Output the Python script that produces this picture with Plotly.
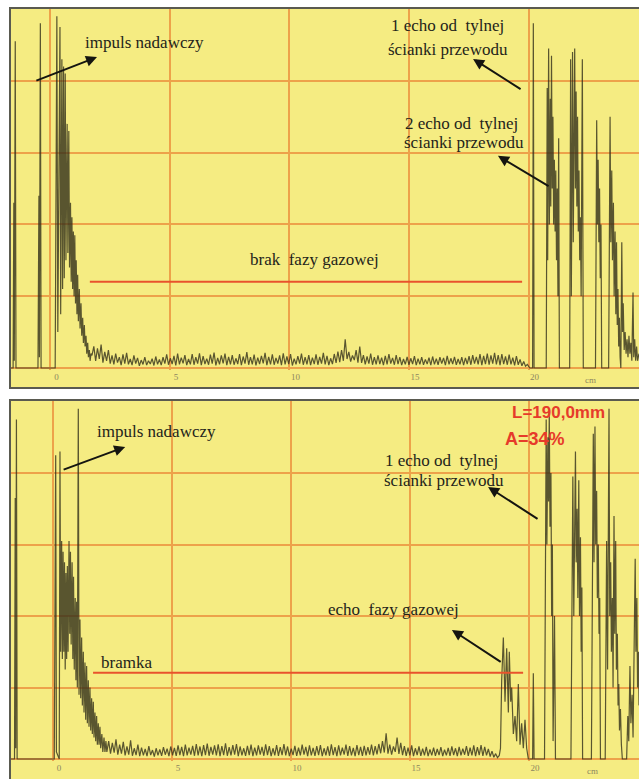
import plotly.graph_objects as go

# ---------------- data (x in cm, amplitude in %) ----------------
tick_vals = [0, 5, 10, 15, 20]
tick_labels = ["0", "5", "10", "15", "20"]
unit_label = "cm"

# ---- top panel: brak fazy gazowej ----
top_pulse_x = [-1.69, -1.56, -1.53, -1.51, -1.47, -1.44, -0.52, -0.48, -0.46, -0.42, -0.39,
               0.20, 0.27, 0.31, 0.40, 0.43, 0.48, 0.51, 0.55, 0.58, 0.62, 0.65, 0.70, 0.73,
               0.77, 0.80, 0.84, 0.87, 0.90, 0.93, 0.96, 0.99, 1.02, 1.05, 1.08, 1.11, 1.14,
               1.17, 1.21, 1.24, 1.28, 1.31, 1.35, 1.38, 1.42, 1.45, 1.49, 1.52, 1.56, 1.59,
               1.63, 1.66, 1.70]
top_pulse_y = [0, 0, 46, 2, 91, 0, 0, 48, 3, 96, 0,
               0, 98, 10, 95, 15, 86, 22, 84, 25, 82, 30, 68, 32,
               66, 28, 46, 24, 42, 22, 38, 20, 37, 18, 30, 15, 26,
               13, 22, 11, 18, 9, 14, 7, 12, 6, 9, 4, 7, 3,
               5, 2, 4]
top_noise_start = 1.74
top_noise_end = 19.95
top_noise = [3.5, 6.0, 2.0, 5.5, 2.5, 6.5, 1.5, 4.5, 2.0, 5.0, 1.2, 3.5, 1.0, 4.0, 1.5, 3.0, 0.8, 3.8, 1.2, 4.2,
             1.0, 2.5, 0.8, 3.5, 1.2, 2.8, 0.6, 2.2, 1.0, 3.0, 0.8, 2.0, 1.1, 2.6, 0.7, 3.2, 1.0, 2.4, 0.8, 3.0,
             1.2, 3.8, 0.9, 2.7, 1.1, 3.4, 0.7, 4.0, 1.0, 2.9, 1.3, 3.6, 0.8, 2.5, 1.0, 3.9, 0.9, 3.0, 1.2, 4.1,
             0.8, 3.3, 1.1, 2.6, 0.9, 3.7, 1.2, 4.3, 0.7, 2.8, 1.0, 3.5, 1.3, 4.0, 0.8, 3.1, 1.0, 3.6, 0.9, 2.7,
             1.1, 3.9, 0.8, 3.2, 1.2, 4.4, 0.9, 3.0, 1.0, 3.7, 0.7, 2.9, 1.1, 3.4, 1.3, 4.2, 0.8, 3.1, 1.0, 3.8,
             0.9, 2.8, 1.2, 3.5, 0.8, 4.1, 1.0, 3.2, 1.1, 3.9, 0.7, 2.6, 1.0, 3.3, 1.2, 4.0, 0.9, 3.0, 1.0, 3.6,
             0.8, 2.9, 1.1, 3.8, 0.9, 3.1, 1.2, 4.2, 1.0, 3.4, 0.8, 2.7, 1.1, 3.9, 1.4, 4.6, 1.6, 5.0, 2.0, 8.0,
             2.5, 4.5, 1.8, 3.5, 2.2, 5.0, 1.5, 6.0, 1.4, 3.6, 1.0, 3.2, 1.2, 4.0, 0.9, 3.0, 1.0, 3.5, 1.1, 2.9,
             0.8, 3.4, 1.0, 3.9, 1.2, 2.8, 0.9, 3.6, 1.1, 3.0, 0.8, 2.5, 1.0, 3.1, 0.9, 2.7, 1.1, 3.3, 0.8, 2.6,
             1.0, 3.0, 0.9, 2.4, 1.1, 2.9, 0.8, 3.2, 1.0, 2.6, 0.9, 3.0, 1.2, 2.8, 0.8, 3.4, 1.0, 2.7, 1.1, 3.1,
             0.9, 2.5, 1.0, 3.0, 0.8, 2.8, 1.1, 3.3, 0.9, 3.6, 1.2, 3.1, 1.0, 3.9, 0.8, 3.4, 1.1, 4.0, 0.9, 3.5,
             1.2, 4.2, 1.0, 3.6, 0.8, 3.9, 1.1, 3.2, 0.9, 3.7, 1.0, 2.9, 0.7, 3.3, 0.9, 2.4, 0.6, 1.8, 0.5, 1.0]
top_echo_x = [20.05, 20.17, 20.20, 20.23,
              20.74, 20.78, 20.80, 20.84, 20.87, 20.91, 20.93, 20.96, 20.99, 21.02, 21.05, 21.08,
              21.11, 21.14, 21.17, 21.20, 21.23, 21.26, 21.29,
              21.72, 21.76, 21.79, 21.84, 21.87, 21.93, 21.96, 21.99, 22.02, 22.05, 22.08, 22.11,
              22.14, 22.17, 22.20, 22.25, 22.29,
              22.80, 22.85, 22.88, 22.91, 22.94, 22.97, 23.00, 23.03, 23.06,
              23.35, 23.41, 23.44, 23.48, 23.51, 23.55, 23.58, 23.62, 23.65, 23.68, 23.71, 23.74,
              23.77, 23.80, 23.83, 23.86, 23.90, 23.93, 23.96, 24.00, 24.04, 24.08, 24.12, 24.16,
              24.20, 24.24, 24.28, 24.32, 24.37, 24.40, 24.44, 24.48, 24.52, 24.56, 24.62]
top_echo_y = [0, 0, 96, 0,
              0, 78, 30, 89, 40, 75, 45, 87, 50, 70, 40, 58,
              38, 55, 30, 50, 20, 64, 0,
              0, 86, 20, 88, 35, 89, 50, 77, 45, 70, 38, 55,
              30, 42, 20, 86, 0,
              0, 69, 40, 58, 35, 50, 25, 40, 0,
              0, 70, 35, 55, 30, 46, 20, 38, 15, 35, 12, 22,
              6, 14, 3, 0, 35, 10, 18, 5, 10, 4, 8, 3,
              9, 4, 7, 2, 21, 3, 8, 2, 6, 2, 4]
top_gate_x = [1.65, 19.73]
top_gate_level = 24.0

# ---- bottom panel: echo fazy gazowej ----
bot_pulse_x = [-1.81, -1.62, -1.59, -1.57, -1.54, -1.51,
               0.05, 0.11, 0.14, 0.26, 0.29, 0.32, 0.36, 0.39, 0.42, 0.45, 0.48, 0.51, 0.54,
               0.57, 0.60, 0.63, 0.67, 0.70, 0.73, 0.76, 0.80, 0.83, 0.86, 0.89, 0.93, 0.96,
               0.99, 1.02, 1.06, 1.09, 1.13, 1.16, 1.20, 1.23, 1.27, 1.30, 1.34, 1.37, 1.41,
               1.44, 1.48, 1.51, 1.55, 1.58, 1.62, 1.65, 1.69, 1.72, 1.76, 1.79, 1.83, 1.86,
               1.90, 1.93, 1.97, 2.00, 2.05, 2.09, 2.14, 2.18, 2.22]
bot_pulse_y = [0, 0, 73, 3, 95, 0,
               0, 85, 2, 0, 86, 30, 61, 28, 58, 30, 55, 25, 52,
               28, 54, 30, 61, 35, 58, 32, 55, 28, 51, 25, 45, 22,
               44, 20, 98, 18, 39, 17, 34, 15, 30, 13, 27, 11, 26,
               10, 22, 9, 20, 8, 17, 7, 16, 6, 13, 5, 12, 4,
               10, 4, 9, 3, 7, 2, 6, 2, 5]
bot_noise_start = 2.26
bot_noise_end = 18.75
bot_noise = [2.0, 5.0, 1.5, 4.5, 1.8, 5.5, 1.2, 4.0, 1.5, 4.8, 1.0, 3.5, 1.2, 5.2, 0.9, 3.0, 1.1, 4.0, 0.8, 3.2,
             1.0, 2.8, 0.8, 3.6, 1.1, 2.5, 0.7, 3.0, 1.0, 2.7, 0.9, 3.3, 1.2, 2.9, 0.8, 3.5, 1.0, 3.1, 0.9, 3.8,
             1.1, 3.4, 0.8, 4.0, 1.0, 3.2, 1.2, 3.7, 0.9, 4.2, 1.0, 3.5, 0.8, 3.9, 1.1, 4.3, 0.9, 3.4, 1.2, 3.8,
             1.0, 4.1, 0.8, 3.6, 1.1, 4.4, 0.9, 3.3, 1.0, 3.9, 1.2, 4.2, 0.8, 3.5, 1.0, 3.0, 0.9, 3.7, 1.1, 4.0,
             0.8, 3.2, 1.0, 3.8, 1.2, 3.4, 0.9, 4.1, 1.1, 3.6, 0.8, 3.0, 1.0, 3.9, 0.9, 3.3, 1.1, 4.2, 1.0, 3.5,
             0.8, 2.9, 1.1, 3.7, 0.9, 3.2, 1.0, 4.0, 1.2, 3.4, 0.8, 3.8, 1.0, 3.1, 0.9, 3.6, 1.1, 3.9, 0.8, 3.0,
             1.0, 3.5, 0.9, 4.1, 1.1, 3.3, 0.8, 3.8, 1.0, 3.2, 1.2, 4.0, 0.9, 3.6, 1.0, 3.1, 0.8, 3.9, 1.1, 3.4,
             0.9, 3.7, 1.0, 3.3, 1.2, 4.0, 1.0, 3.6, 1.3, 4.2, 1.6, 5.0, 1.8, 7.2, 1.5, 4.0, 1.2, 3.5, 2.0, 6.0,
             1.4, 4.5, 1.1, 3.6, 0.9, 3.2, 1.0, 3.8, 0.8, 3.0, 1.1, 3.5, 0.9, 2.9, 1.0, 3.4, 0.8, 2.7, 1.0, 3.2,
             0.9, 2.8, 1.1, 3.3, 0.8, 2.6, 1.0, 3.1, 0.9, 3.5, 1.1, 3.0, 0.8, 3.4, 1.0, 2.9, 1.2, 3.6, 0.9, 3.2,
             1.0, 3.8, 0.8, 3.3, 1.1, 3.9, 0.9, 3.4, 1.0, 2.8, 0.7, 2.2, 0.5, 1.5, 0.4, 1.0]
bot_echo_x = [18.80, 18.85, 18.92, 18.99, 19.06, 19.13, 19.17, 19.23, 19.27, 19.34, 19.41, 19.48,
              19.55, 19.62, 19.69, 19.76, 19.83, 19.90, 19.97,
              20.15, 20.18, 20.21,
              20.65, 20.72, 20.75, 20.79, 20.82, 20.85, 20.88, 20.92, 20.95, 20.98, 21.01, 21.07, 21.11,
              21.76, 21.84, 21.88, 21.95, 21.98, 22.02, 22.05, 22.09, 22.12, 22.16, 22.19, 22.22, 22.25,
              22.62, 22.70, 22.73, 22.77, 22.80, 22.84, 22.87, 22.91, 22.94, 22.97, 23.00,
              23.20, 23.26, 23.30, 23.36, 23.39, 23.43, 23.46, 23.50, 23.53, 23.57, 23.60, 23.64,
              23.67, 23.71, 23.74, 23.77, 23.80, 23.84, 23.88, 23.92,
              24.10, 24.15, 24.19, 24.24, 24.28, 24.33, 24.37, 24.43, 24.46, 24.49, 24.53, 24.56,
              24.60, 24.62]
bot_echo_y = [3, 22, 34, 16, 31, 13, 30, 16, 20, 7, 12, 5,
              21, 4, 10, 3, 11, 3, 0,
              0, 24, 0,
              0, 95, 60, 90, 72, 97, 65, 80, 40, 60, 5, 40, 0,
              0, 79, 40, 86, 55, 70, 45, 78, 40, 62, 30, 48, 0,
              0, 91, 55, 93, 60, 75, 45, 60, 35, 45, 0,
              0, 61, 25, 98, 40, 55, 30, 45, 20, 68, 35, 61,
              25, 35, 15, 21, 8, 14, 4, 0,
              0, 12, 5, 26, 10, 18, 6, 40, 56, 30, 45, 20,
              30, 15]
bot_gate_x = [1.68, 19.75]
bot_gate_level = 24.1

# ---------------- styling ----------------
W, H = 639, 779
BG = "#f5ec82"
GRID = "#eda24a"
TRACE = "rgba(50,48,26,0.8)"
GATE = "#e8532c"
FRAME = "#5a5a50"
TXT = "#24241a"
TICKC = "#8c8660"
SERIF = "Liberation Serif, Times New Roman, serif"
SANS = "Liberation Sans, Arial, sans-serif"


def py2paper(py):
    return 1 - py / H


def signal(px, py, n0, n1, nv, ex, ey):
    n = len(nv)
    step = (n1 - n0) / (n - 1)
    nx = [n0 + i * step for i in range(n)]
    return px + nx + ex, py + nv + ey


fig = go.Figure()

tx, ty = signal(top_pulse_x, top_pulse_y, top_noise_start, top_noise_end, top_noise, top_echo_x, top_echo_y)
bx, by = signal(bot_pulse_x, bot_pulse_y, bot_noise_start, bot_noise_end, bot_noise, bot_echo_x, bot_echo_y)

fig.add_trace(go.Scatter(x=tx, y=ty, mode="lines", line=dict(color=TRACE, width=1.2),
                         xaxis="x", yaxis="y", hoverinfo="skip", showlegend=False))
fig.add_trace(go.Scatter(x=top_gate_x, y=[top_gate_level] * 2, mode="lines",
                         line=dict(color=GATE, width=2), xaxis="x", yaxis="y", showlegend=False))
fig.add_trace(go.Scatter(x=bx, y=by, mode="lines", line=dict(color=TRACE, width=1.2),
                         xaxis="x2", yaxis="y2", hoverinfo="skip", showlegend=False))
fig.add_trace(go.Scatter(x=bot_gate_x, y=[bot_gate_level] * 2, mode="lines",
                         line=dict(color=GATE, width=2), xaxis="x2", yaxis="y2", showlegend=False))

xcommon = dict(tickvals=tick_vals, ticktext=tick_labels, showgrid=True, gridcolor=GRID, gridwidth=1.5,
               ticks="", ticklabelshift=6,
               tickfont=dict(family=SERIF, size=9, color=TICKC),
               showline=False, zeroline=False)
ycommon = dict(tickvals=[0, 20, 40, 60, 80], showticklabels=False, showgrid=True, gridcolor=GRID,
               gridwidth=1.5, ticks="", showline=False, zeroline=False)

fig.update_layout(
    width=W, height=H, margin=dict(l=10, r=0, t=0, b=0, autoexpand=False),
    paper_bgcolor="white", plot_bgcolor="rgba(0,0,0,0)",
    xaxis=dict(domain=[0, 1], range=[-1.69, 24.62], anchor="y", **xcommon),
    yaxis=dict(domain=[py2paper(370), py2paper(8)], range=[-0.56, 100.28], anchor="x", **ycommon),
    xaxis2=dict(domain=[0, 1], range=[-1.81, 24.62], anchor="y2", **xcommon),
    yaxis2=dict(domain=[py2paper(761), py2paper(400)], range=[-0.56, 100.42], anchor="x2", **ycommon),
)

# yellow panels with dark frame (the right edge of both panels is cut off by the picture)
for top_py, bot_py in [(8, 388), (400, 790)]:
    fig.add_shape(type="rect", xref="paper", yref="paper", x0=0, x1=1.05,
                  y0=py2paper(bot_py), y1=py2paper(top_py),
                  fillcolor=BG, line=dict(width=0), layer="below")
    fig.add_shape(type="rect", xref="paper", yref="paper", x0=0, x1=1.05,
                  y0=py2paper(bot_py), y1=py2paper(top_py),
                  fillcolor="rgba(0,0,0,0)", line=dict(color=FRAME, width=2), layer="above")


def txt(text, x, y, xref, yref, size=17, color=TXT, family=SERIF, anchor="center", bold=False):
    fig.add_annotation(text=("<b>%s</b>" % text) if bold else text, x=x, y=y, xref=xref, yref=yref,
                       showarrow=False, xanchor=anchor, yanchor="middle",
                       font=dict(family=family, size=size, color=color))


def arrow(x_tail, y_tail, x_head, y_head, xref, yref):
    fig.add_annotation(text="", x=x_head, y=y_head, ax=x_tail, ay=y_tail, xref=xref, yref=yref,
                       axref=xref, ayref=yref, showarrow=True, arrowhead=2, arrowsize=1.1,
                       arrowwidth=2, arrowcolor="#151510", standoff=0, startstandoff=0)


# top panel texts
txt("impuls nadawczy", 3.95, 90.8, "x", "y")
arrow(-0.65, 79.9, 1.95, 86.6, "x", "y")
txt("1 echo od  tylnej", 16.59, 95.4, "x", "y")
txt("ścianki przewodu", 16.65, 88.6, "x", "y")
arrow(19.73, 77.4, 17.68, 86.1, "x", "y")
txt("2 echo od  tylnej", 17.2, 68.2, "x", "y")
txt("ścianki przewodu", 17.3, 62.8, "x", "y")
arrow(20.90, 50.4, 18.72, 59.1, "x", "y")
txt("brak  fazy gazowej", 11.04, 30.1, "x", "y")
txt(unit_label, 22.6, py2paper(380), "x", "paper", size=9, color=TICKC)

# bottom panel texts
txt("impuls nadawczy", 4.33, 91.5, "x2", "y2")
arrow(0.38, 80.8, 3.03, 87.3, "x2", "y2")
txt("L=190,0mm", 19.2, 96.8, "x2", "y2", size=17, color="#e63b2a", family=SANS, anchor="left", bold=True)
txt("A=34%", 18.9, 89.5, "x2", "y2", size=18, color="#e63b2a", family=SANS, anchor="left", bold=True)
txt("1 echo od  tylnej", 16.34, 83.6, "x2", "y2")
txt("ścianki przewodu", 16.43, 78.0, "x2", "y2")
arrow(20.42, 66.9, 18.28, 76.1, "x2", "y2")
txt("echo  fazy gazowej", 14.29, 41.7, "x2", "y2")
arrow(18.87, 26.9, 16.76, 36.1, "x2", "y2")
txt("bramka", 3.1, 27.1, "x2", "y2")
txt(unit_label, 22.65, py2paper(771), "x2", "paper", size=9, color=TICKC)

fig.write_html("out.html", config={"displayModeBar": False},
               post_script="document.body.style.margin='0px';")
